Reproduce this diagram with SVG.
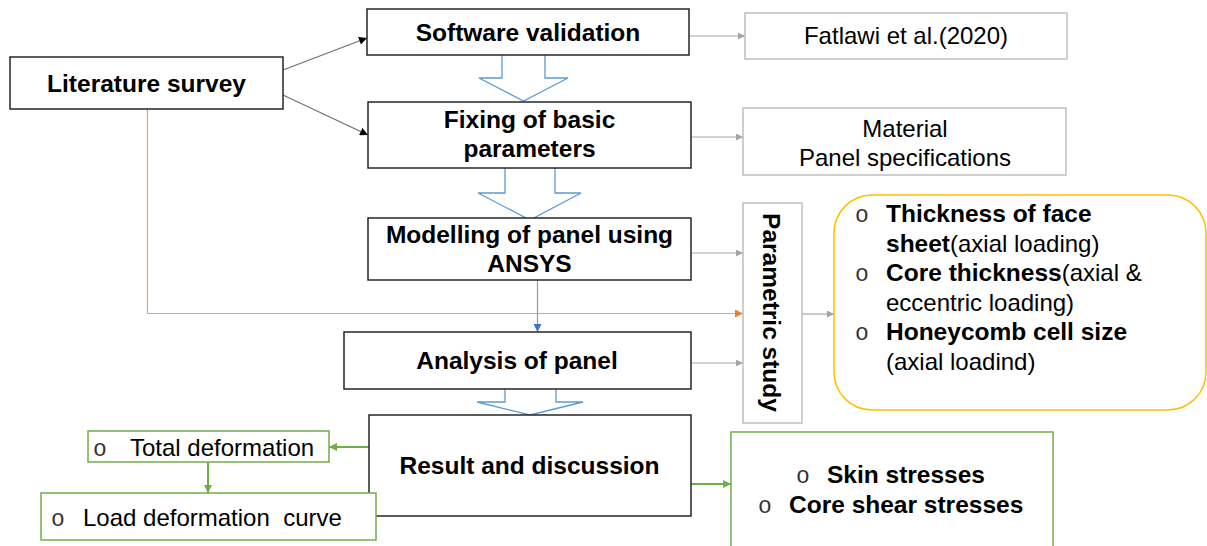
<svg xmlns="http://www.w3.org/2000/svg" width="1207" height="546" viewBox="0 0 1207 546">
  <style>
    .box { fill: #ffffff; stroke: #262626; stroke-width: 1.5; }
    .gbox { fill: #ffffff; stroke: #bfbfbf; stroke-width: 1.5; }
    .grbox { fill: #ffffff; stroke: #70ad47; stroke-width: 1.5; }
    .ybox { fill: #ffffff; stroke: #ffc000; stroke-width: 1.5; }
    .blk { fill: #ffffff; stroke: #5b9bd5; stroke-width: 1.3; }
    .t { font-family: "Liberation Sans", Arial, sans-serif; font-size: 24px; fill: #000000; }
    .b { font-weight: bold; font-size: 24.5px; }
    .c { text-anchor: middle; }
    .bul { font-family: "Liberation Mono", "Courier New", monospace; font-size: 23px; fill: #333333; }
    .pre { white-space: pre; }
    .ln-dark { stroke: #6e6e6e; stroke-width: 1.2; fill: none; }
    .ln-gray { stroke: #a6a6a6; stroke-width: 1.2; fill: none; }
    .ln-orange { stroke: #f0a070; stroke-width: 1.2; fill: none; }
    .ln-blue { stroke: #6f9fd8; stroke-width: 1.2; fill: none; }
    .ln-green { stroke: #70ad47; stroke-width: 2; fill: none; }
  </style>
  <defs>
    <marker id="ah-black" viewBox="0 0 10 10" refX="10" refY="5" markerWidth="10" markerHeight="8" markerUnits="userSpaceOnUse" orient="auto">
      <path d="M0,0 L10,5 L0,10 z" fill="#000000"/>
    </marker>
    <marker id="ah-gray" viewBox="0 0 10 10" refX="10" refY="5" markerWidth="9" markerHeight="7" markerUnits="userSpaceOnUse" orient="auto">
      <path d="M0,0 L10,5 L0,10 z" fill="#a6a6a6"/>
    </marker>
    <marker id="ah-orange" viewBox="0 0 10 10" refX="10" refY="5" markerWidth="10" markerHeight="8" markerUnits="userSpaceOnUse" orient="auto">
      <path d="M0,0 L10,5 L0,10 z" fill="#ed7d31"/>
    </marker>
    <marker id="ah-blue" viewBox="0 0 10 10" refX="10" refY="5" markerWidth="10" markerHeight="8" markerUnits="userSpaceOnUse" orient="auto">
      <path d="M0,0 L10,5 L0,10 z" fill="#4472c4"/>
    </marker>
    <marker id="ah-green" viewBox="0 0 10 10" refX="10" refY="5" markerWidth="10" markerHeight="8" markerUnits="userSpaceOnUse" orient="auto">
      <path d="M0,0 L10,5 L0,10 z" fill="#70ad47"/>
    </marker>
  </defs>

  <!-- connectors -->
  <g id="connectors">
    <line class="ln-dark" x1="283" y1="70" x2="367" y2="38" marker-end="url(#ah-black)"/>
    <line class="ln-dark" x1="283" y1="95" x2="368" y2="135" marker-end="url(#ah-black)"/>
    <line class="ln-gray" x1="689" y1="36" x2="745" y2="36" marker-end="url(#ah-gray)"/>
    <line class="ln-gray" x1="691" y1="137" x2="743" y2="137" marker-end="url(#ah-gray)"/>
    <line class="ln-gray" x1="691" y1="253" x2="743" y2="253" marker-end="url(#ah-gray)"/>
    <line class="ln-gray" x1="691" y1="363" x2="743" y2="363" marker-end="url(#ah-gray)"/>
    <line class="ln-gray" x1="802" y1="314" x2="834" y2="314" marker-end="url(#ah-gray)"/>
    <polyline class="ln-orange" points="147.5,109 147.5,313.5 743,313.5" marker-end="url(#ah-orange)"/>
    <line class="ln-blue" x1="537.5" y1="280" x2="537.5" y2="332" marker-end="url(#ah-blue)"/>
    <line class="ln-green" x1="369" y1="447" x2="329" y2="447" marker-end="url(#ah-green)"/>
    <line class="ln-green" x1="208" y1="462" x2="208" y2="493" marker-end="url(#ah-green)"/>
    <line class="ln-green" x1="691" y1="484" x2="731" y2="484" marker-end="url(#ah-green)"/>
    <!-- hollow block arrows down the main column -->
    <path class="blk" d="M502,55 L502,78 L479,78 L523.5,101 L568,78 L545,78 L545,55"/>
    <path class="blk" d="M505,168 L505,193 L478,193 L530,220 L581,193 L555,193 L555,168"/>
    <path class="blk" d="M505,389 L505,402 L477,402 L530,415 L583,402 L556,402 L556,389"/>
  </g>

  <g id="literature-survey">
    <rect class="box" x="10" y="57" width="273" height="52"/>
    <text class="t b c" x="146.5" y="92">Literature survey</text>
  </g>

  <g id="software-validation">
    <rect class="box" x="367" y="9" width="322" height="46"/>
    <text class="t b c" x="528" y="41">Software validation</text>
  </g>

  <g id="fatlawi">
    <rect class="gbox" x="745" y="13" width="322" height="46"/>
    <text class="t c" x="906" y="44">Fatlawi et al.(2020)</text>
  </g>

  <g id="basic-parameters">
    <rect class="box" x="368" y="102" width="323" height="66"/>
    <text class="t b c" x="529.5" y="128">Fixing of basic</text>
    <text class="t b c" x="529.5" y="157">parameters</text>
  </g>

  <g id="material">
    <rect class="gbox" x="743" y="108" width="323" height="67"/>
    <text class="t c" x="905" y="137">Material</text>
    <text class="t c" x="905" y="166">Panel specifications</text>
  </g>

  <g id="modelling">
    <rect class="box" x="368" y="218" width="323" height="62"/>
    <text class="t b c" x="529.5" y="243">Modelling of panel using</text>
    <text class="t b c" x="529.5" y="272">ANSYS</text>
  </g>

  <g id="analysis">
    <rect class="box" x="344" y="332" width="347" height="57"/>
    <text class="t b c" x="517" y="369">Analysis of panel</text>
  </g>

  <g id="parametric-study">
    <rect class="gbox" x="743" y="203" width="59" height="220"/>
    <text class="t b c" transform="translate(763,312.5) rotate(90)" x="0" y="0">Parametric study</text>
  </g>

  <g id="parameters-list">
    <rect class="ybox" x="834" y="195" width="372" height="215" rx="38" ry="38"/>
    <text class="bul" x="855" y="222">o</text>
    <text class="t b" x="886" y="222">Thickness of face</text>
    <text class="t" x="886" y="251.5"><tspan class="b">sheet</tspan>(axial loading)</text>
    <text class="bul" x="855" y="281">o</text>
    <text class="t" x="886" y="281"><tspan class="b">Core thickness</tspan>(axial &amp;</text>
    <text class="t" x="886" y="310.5">eccentric loading)</text>
    <text class="bul" x="855" y="340">o</text>
    <text class="t b" x="886" y="340">Honeycomb cell size</text>
    <text class="t" x="886" y="369.5">(axial loadind)</text>
  </g>

  <g id="result-discussion">
    <rect class="box" x="369" y="415" width="322" height="101"/>
    <text class="t b c" x="529.5" y="474">Result and discussion</text>
  </g>

  <g id="total-deformation">
    <rect class="grbox" x="88" y="431" width="241" height="31"/>
    <text class="bul" x="93" y="456">o</text>
    <text class="t" x="130" y="456">Total deformation</text>
  </g>

  <g id="load-deformation">
    <rect class="grbox" x="41" y="493" width="335" height="47"/>
    <text class="bul" x="51" y="526">o</text>
    <text class="t pre" x="83" y="526">Load deformation  curve</text>
  </g>

  <g id="stresses">
    <rect class="grbox" x="731" y="432" width="322" height="130"/>
    <text class="bul" x="796" y="483">o</text>
    <text class="t b" x="827" y="483">Skin stresses</text>
    <text class="bul" x="758" y="513">o</text>
    <text class="t b" x="789" y="513">Core shear stresses</text>
  </g>
</svg>
